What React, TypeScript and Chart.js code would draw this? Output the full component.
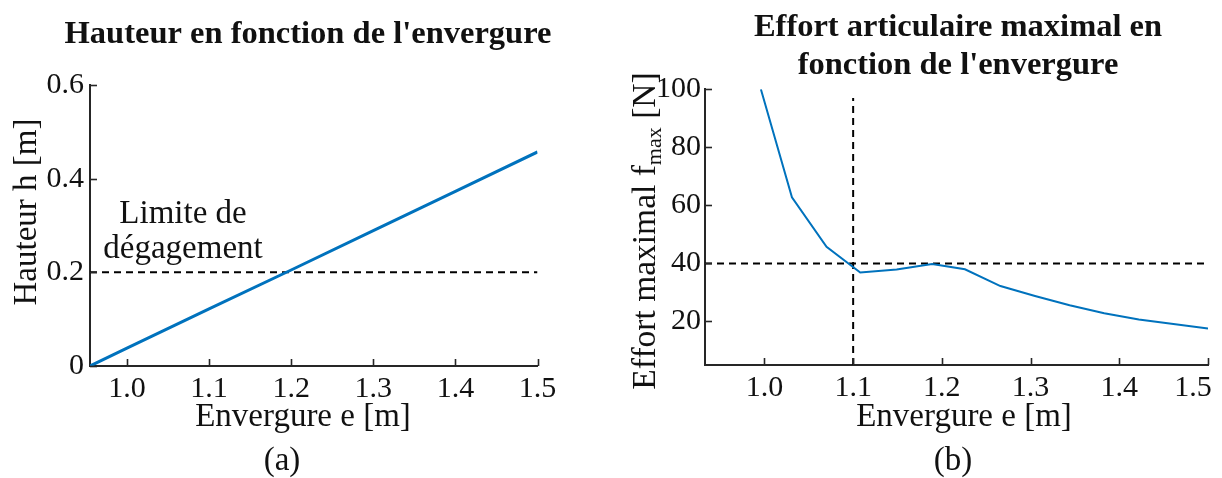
import React, { useEffect, useRef } from "react";
import { Chart, registerables } from "chart.js";

Chart.register(...registerables);

// ---------- Data: (a) Hauteur en fonction de l'envergure ----------
const hauteurEnvergure = [0.955, 1.0, 1.1, 1.2, 1.3, 1.4, 1.5];
const hauteurValues = [0, 0.038, 0.122, 0.205, 0.289, 0.373, 0.457];
const limiteHauteur = 0.2;
const hauteurXRange = [0.955, 1.5];
const hauteurYRange = [0, 0.6];
const hauteurXTicks = [1.0, 1.1, 1.2, 1.3, 1.4, 1.5];
const hauteurXTickLabels = ["1.0", "1.1", "1.2", "1.3", "1.4", "1.5"];
const hauteurYTicks = [0, 0.2, 0.4, 0.6];
const hauteurYTickLabels = ["0", "0.2", "0.4", "0.6"];

// ---------- Data: (b) Effort articulaire maximal ----------
const effortEnvergure = [0.996, 1.031, 1.07, 1.108, 1.149, 1.189, 1.226, 1.266, 1.305, 1.344, 1.383, 1.422, 1.461, 1.5];
const effortValues = [100, 62.8, 45.7, 36.9, 37.9, 39.8, 38.0, 32.2, 28.8, 25.6, 22.8, 20.7, 19.1, 17.6];
const effortLimite = 40;
const envergureLimite = 1.1;
const effortVerticalSpan = [5, 97];
const effortXRange = [0.933, 1.5];
const effortYRange = [5, 100];
const effortXTicks = [1.0, 1.1, 1.2, 1.3, 1.4, 1.5];
const effortXTickLabels = ["1.0", "1.1", "1.2", "1.3", "1.4", "1.5\u2003"];
const effortYTicks = [20, 40, 60, 80, 100];
const effortYTickLabels = ["20", "40", "60", "80", "100"];

const SERIF = "'Liberation Serif', 'DejaVu Serif', serif";
const BLUE = "#0072BD";
const AXIS = "#262626";
const TEXT = "#111111";

type Part = { text: string; size: number; bold?: boolean; shift?: number };
type TextItem = { parts: Part[]; x: number; y: number; rotate?: boolean };

function makeDecor(texts: TextItem[]) {
  return {
    id: "decor",
    afterDraw(chart: any) {
      const ctx: CanvasRenderingContext2D = chart.ctx;
      const xs = chart.scales.x;
      const ys = chart.scales.y;
      ctx.save();
      // inward tick marks
      ctx.strokeStyle = AXIS;
      ctx.lineWidth = 1.6;
      const len = 7;
      xs.ticks.forEach((t: any) => {
        const px = Math.round(xs.getPixelForValue(t.value)) + 0.5;
        ctx.beginPath();
        ctx.moveTo(px, xs.top);
        ctx.lineTo(px, xs.top - len);
        ctx.stroke();
      });
      ys.ticks.forEach((t: any) => {
        const py = Math.round(ys.getPixelForValue(t.value)) + 0.5;
        ctx.beginPath();
        ctx.moveTo(ys.right, py);
        ctx.lineTo(ys.right + len, py);
        ctx.stroke();
      });
      // texts
      ctx.fillStyle = TEXT;
      ctx.textBaseline = "alphabetic";
      ctx.textAlign = "left";
      texts.forEach((item) => {
        const widths = item.parts.map((p) => {
          ctx.font = `${p.bold ? "bold " : ""}${p.size}px ${SERIF}`;
          return ctx.measureText(p.text).width;
        });
        const total = widths.reduce((a, b) => a + b, 0);
        ctx.save();
        ctx.translate(item.x, item.y);
        if (item.rotate) ctx.rotate(-Math.PI / 2);
        let cx = -total / 2;
        item.parts.forEach((p, i) => {
          ctx.font = `${p.bold ? "bold " : ""}${p.size}px ${SERIF}`;
          ctx.fillText(p.text, cx, p.shift ?? 0);
          cx += widths[i];
        });
        ctx.restore();
      });
      ctx.restore();
    },
  };
}

function makeConfig(o: any) {
  const tickFont = { family: SERIF, size: 30, lineHeight: 1.2 };
  return {
    type: "line",
    data: { datasets: o.datasets },
    options: {
      animation: false,
      responsive: false,
      events: [],
      layout: { padding: { left: 0, top: o.top, right: o.right, bottom: 0 } },
      plugins: {
        legend: { display: false },
        tooltip: { enabled: false },
      },
      elements: { point: { radius: 0 } },
      scales: {
        x: {
          type: "linear",
          min: o.xRange[0],
          max: o.xRange[1],
          grid: { display: false, drawTicks: false },
          border: { display: true, color: AXIS, width: 2 },
          ticks: {
            color: TEXT,
            font: tickFont,
            padding: 5,
            autoSkip: false,
            maxRotation: 0,
            callback: (v: number) => {
              const i = o.xTicks.findIndex((t: number) => Math.abs(t - v) < 1e-9);
              return i >= 0 ? o.xTickLabels[i] : "";
            },
          },
          afterBuildTicks: (s: any) => {
            s.ticks = o.xTicks.map((v: number) => ({ value: v }));
          },
          afterFit: (s: any) => {
            s.height = o.xHeight;
            s.paddingLeft = 0;
            s.paddingRight = 0;
          },
        },
        y: {
          type: "linear",
          min: o.yRange[0],
          max: o.yRange[1],
          grid: { display: false, drawTicks: false },
          border: { display: true, color: AXIS, width: 2 },
          ticks: {
            color: TEXT,
            font: tickFont,
            padding: o.yPad,
            autoSkip: false,
            callback: (v: number) => {
              const i = o.yTicks.findIndex((t: number) => Math.abs(t - v) < 1e-9);
              return i >= 0 ? o.yTickLabels[i] : "";
            },
          },
          afterBuildTicks: (s: any) => {
            s.ticks = o.yTicks.map((v: number) => ({ value: v }));
          },
          afterFit: (s: any) => {
            s.width = o.yWidth;
            s.paddingTop = 0;
            s.paddingBottom = 0;
          },
        },
      },
    },
    plugins: [makeDecor(o.texts)],
  };
}

const dashed = { borderColor: "#000000", borderWidth: 2, borderDash: [7, 5], pointRadius: 0, fill: false };

function ChartCanvas({ config, left }: { config: any; left: number }) {
  const ref = useRef<HTMLCanvasElement | null>(null);
  useEffect(() => {
    if (!ref.current) return;
    const chart = new Chart(ref.current, config);
    return () => chart.destroy();
  }, [config]);
  return (
    <canvas
      ref={ref}
      width={611}
      height={478}
      style={{ position: "absolute", left, top: 0, width: 611, height: 478 }}
    />
  );
}

const configA = makeConfig({
  top: 85,
  right: 73.5,
  xHeight: 112,
  yWidth: 90,
  yPad: 6,
  xRange: hauteurXRange,
  yRange: hauteurYRange,
  xTicks: hauteurXTicks,
  xTickLabels: hauteurXTickLabels,
  yTicks: hauteurYTicks,
  yTickLabels: hauteurYTickLabels,
  datasets: [
    {
      data: hauteurEnvergure.map((e, i) => ({ x: e, y: hauteurValues[i] })),
      borderColor: BLUE,
      borderWidth: 3,
      pointRadius: 0,
      fill: false,
    },
    {
      ...dashed,
      data: hauteurXRange.map((e) => ({ x: e, y: limiteHauteur })),
    },
  ],
  texts: [
    { parts: [{ text: "Hauteur en fonction de l'envergure", size: 32.5, bold: true }], x: 308, y: 43 },
    { parts: [{ text: "Hauteur h [m]", size: 33 }], x: 36, y: 212, rotate: true },
    { parts: [{ text: "Limite de", size: 33 }], x: 183, y: 223 },
    { parts: [{ text: "dégagement", size: 33 }], x: 183, y: 258 },
    { parts: [{ text: "Envergure e [m]", size: 33 }], x: 303, y: 426 },
    { parts: [{ text: "(a)", size: 33 }], x: 282, y: 470 },
  ],
});

const configB = makeConfig({
  top: 89.3,
  right: 14,
  xHeight: 113,
  yWidth: 94,
  yPad: 4,
  xRange: effortXRange,
  yRange: effortYRange,
  xTicks: effortXTicks,
  xTickLabels: effortXTickLabels,
  yTicks: effortYTicks,
  yTickLabels: effortYTickLabels,
  datasets: [
    {
      data: effortEnvergure.map((e, i) => ({ x: e, y: effortValues[i] })),
      borderColor: BLUE,
      borderWidth: 2,
      pointRadius: 0,
      fill: false,
    },
    {
      ...dashed,
      data: effortXRange.map((e) => ({ x: e, y: effortLimite })),
    },
    {
      ...dashed,
      data: effortVerticalSpan.map((f) => ({ x: envergureLimite, y: f })),
    },
  ],
  texts: [
    { parts: [{ text: "Effort articulaire maximal en", size: 32.5, bold: true }], x: 347, y: 36 },
    { parts: [{ text: "fonction de l'envergure", size: 32.5, bold: true }], x: 347, y: 74 },
    {
      parts: [
        { text: "Effort maximal f", size: 33.5 },
        { text: "max", size: 22, shift: 6 },
        { text: " [N]", size: 33.5 },
      ],
      x: 44,
      y: 231,
      rotate: true,
    },
    { parts: [{ text: "Envergure e [m]", size: 33 }], x: 353, y: 426 },
    { parts: [{ text: "(b)", size: 33 }], x: 342, y: 470 },
  ],
});

export default function App() {
  useEffect(() => {
    document.body.style.margin = "0";
    document.body.style.background = "#ffffff";
  }, []);
  return (
    <div style={{ position: "relative", width: 1222, height: 478, background: "#fff", overflow: "hidden" }}>
      <ChartCanvas config={configA} left={0} />
      <ChartCanvas config={configB} left={611} />
    </div>
  );
}
